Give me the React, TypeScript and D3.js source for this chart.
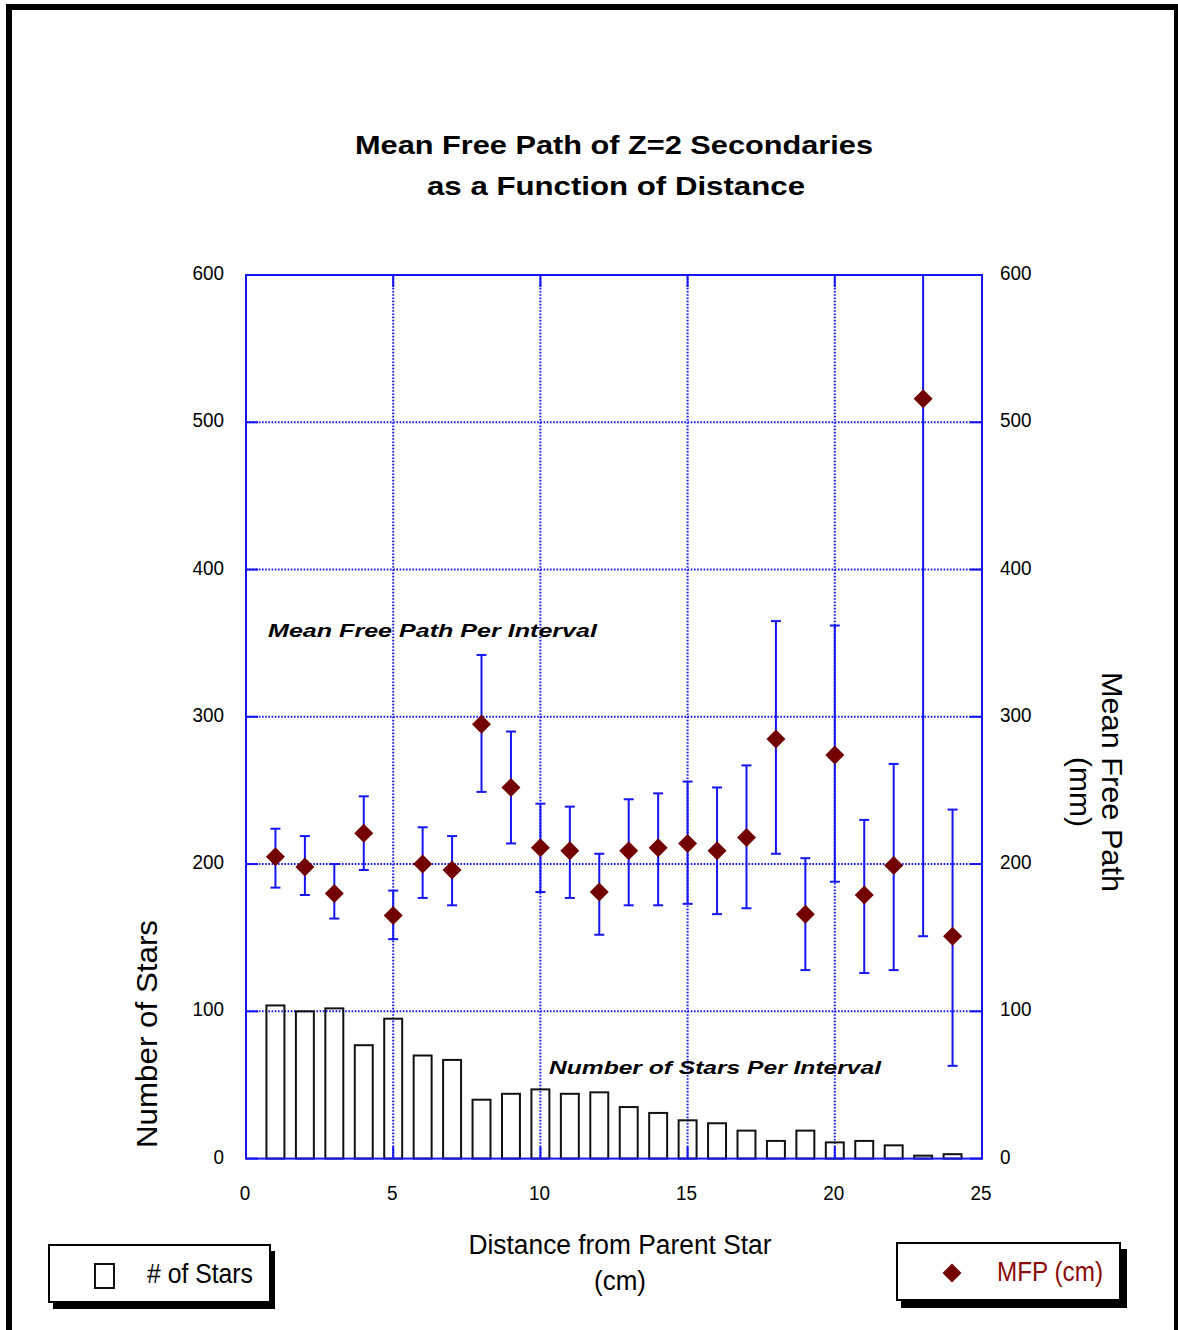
import React from "react";
import * as d3 from "d3";

// Distance intervals (cm) and per-interval measurements
const distances = [1, 2, 3, 4, 5, 6, 7, 8, 9, 10, 11, 12, 13, 14, 15, 16, 17, 18, 19, 20, 21, 22, 23, 24];
const starCounts = [104, 100, 102, 77, 95, 70, 67, 40, 44, 47, 44, 45, 35, 31, 26, 24, 19, 12, 19, 11, 12, 9, 2, 3];
const mfpValues = [205, 198, 180, 221, 165, 200, 196, 295, 252, 211, 209, 181, 209, 211, 214, 209, 218, 285, 166, 274, 179, 199, 516, 151];
const mfpUpper = [224, 219, 200, 246, 182, 225, 219, 342, 290, 241, 239, 207, 244, 248, 256, 252, 267, 365, 204, 362, 230, 268, 881, 237];
const mfpLower = [184, 179, 163, 196, 149, 177, 172, 249, 214, 181, 177, 152, 172, 172, 173, 166, 170, 207, 128, 188, 126, 128, 151, 63];

const xTicks = [0, 5, 10, 15, 20, 25];
const yTicks = [0, 100, 200, 300, 400, 500, 600];

const W = 1178;
const H = 1330;
const BLUE = "#1616f5";
const MAROON = "#730000";
const SANS = "'Liberation Sans', Arial, sans-serif";

export default function App() {
  const x = d3.scaleLinear().domain([0, 25]).range([246, 982]);
  const y = d3.scaleLinear().domain([0, 600]).range([1158.6, 275]);
  const [x0, x1] = x.range();
  const [y0, y1] = y.range();
  const barW = x(0.61) - x(0);
  const capW = 5;
  const tickLen = 12;
  const diamond = d3.symbol().type(d3.symbolDiamond2).size(230);
  const clampY = (v: number) => y(Math.min(600, Math.max(0, v)));

  return (
    <svg
      width={W}
      height={H}
      viewBox={`0 0 ${W} ${H}`}
      style={{ position: "absolute", left: 0, top: 0, display: "block", background: "#fff" }}
    >
      {/* page frame */}
      <rect x={9} y={7} width={1168} height={1360} fill="none" stroke="#000" strokeWidth={6} />

      {/* title */}
      <g fontFamily={SANS} fontWeight="bold" fontSize={26} textAnchor="middle" fill="#000">
        <text x={614} y={154} textLength={518} lengthAdjust="spacingAndGlyphs">Mean Free Path of Z=2 Secondaries</text>
        <text x={616} y={195} textLength={378} lengthAdjust="spacingAndGlyphs">as a Function of Distance</text>
      </g>

      {/* dotted grid */}
      <g stroke={BLUE} strokeWidth={2} strokeDasharray="1.6 1.6" fill="none">
        {xTicks.filter((t) => t > 0 && t < 25).map((t) => (
          <line key={`gx${t}`} x1={x(t)} x2={x(t)} y1={y1} y2={y0} />
        ))}
        {yTicks.filter((t) => t > 0 && t < 600).map((t) => (
          <line key={`gy${t}`} x1={x0} x2={x1} y1={y(t)} y2={y(t)} />
        ))}
      </g>

      {/* star count bars */}
      <g fill="none" stroke="#111" strokeWidth={2}>
        {distances.map((d, i) => (
          <rect
            key={`b${d}`}
            x={x(d) - barW / 2}
            y={y(starCounts[i])}
            width={barW}
            height={y(0) - y(starCounts[i])}
          />
        ))}
      </g>

      {/* error bars */}
      <g stroke={BLUE} strokeWidth={2} fill="none">
        {distances.map((d, i) => {
          const cx = x(d);
          const top = clampY(mfpUpper[i]);
          const bot = clampY(mfpLower[i]);
          return (
            <g key={`e${d}`}>
              <line x1={cx} x2={cx} y1={top} y2={bot} />
              {mfpUpper[i] <= 600 && <line x1={cx - capW} x2={cx + capW} y1={top} y2={top} />}
              <line x1={cx - capW} x2={cx + capW} y1={bot} y2={bot} />
            </g>
          );
        })}
      </g>

      {/* axes frame and ticks */}
      <g stroke={BLUE} strokeWidth={2} fill="none">
        <rect x={x0} y={y1} width={x1 - x0} height={y0 - y1} />
        {yTicks.map((t) => (
          <g key={`ty${t}`}>
            <line x1={x0} x2={x0 + tickLen} y1={y(t)} y2={y(t)} />
            <line x1={x1 - tickLen} x2={x1} y1={y(t)} y2={y(t)} />
          </g>
        ))}
        {xTicks.map((t) => (
          <g key={`tx${t}`}>
            <line x1={x(t)} x2={x(t)} y1={y0} y2={y0 - tickLen} />
            <line x1={x(t)} x2={x(t)} y1={y1} y2={y1 + tickLen} />
          </g>
        ))}
      </g>

      {/* MFP markers */}
      <g fill={MAROON}>
        {distances.map((d, i) => (
          <path key={`m${d}`} d={diamond() as string} transform={`translate(${x(d)},${y(mfpValues[i])})`} />
        ))}
      </g>

      {/* tick labels */}
      <g fontFamily={SANS} fontSize={21} fill="#000">
        {yTicks.map((t) => (
          <text key={`ly${t}`} transform={`translate(224,${y(t) + 5}) scale(0.9,1)`} textAnchor="end">{t}</text>
        ))}
        {yTicks.map((t) => (
          <text key={`ry${t}`} transform={`translate(1000,${y(t) + 5}) scale(0.9,1)`} textAnchor="start">{t}</text>
        ))}
        {xTicks.map((t) => (
          <text key={`lx${t}`} transform={`translate(${x(t) - 1},1200) scale(0.9,1)`} textAnchor="middle">{t}</text>
        ))}
      </g>

      {/* axis titles */}
      <g fontFamily={SANS} fill="#000" textAnchor="middle" lengthAdjust="spacingAndGlyphs">
        <text transform="translate(157,1034) rotate(-90)" fontSize={29} textLength={228} lengthAdjust="spacingAndGlyphs">Number of Stars</text>
        <text transform="translate(1102,782) rotate(90)" fontSize={29} textLength={220} lengthAdjust="spacingAndGlyphs">Mean Free Path</text>
        <text transform="translate(1070,792) rotate(90)" fontSize={29} textLength={70} lengthAdjust="spacingAndGlyphs">(mm)</text>
        <text x={620} y={1254} fontSize={27} textLength={303} lengthAdjust="spacingAndGlyphs">Distance from Parent Star</text>
        <text x={620} y={1290} fontSize={27} textLength={52} lengthAdjust="spacingAndGlyphs">(cm)</text>
      </g>

      {/* in-plot annotations */}
      <g fontFamily={SANS} fontWeight="bold" fontStyle="italic" fontSize={19} fill="#000">
        <text x={268} y={637} textLength={329} lengthAdjust="spacingAndGlyphs">Mean Free Path Per Interval</text>
        <text x={549} y={1074} textLength={332} lengthAdjust="spacingAndGlyphs">Number of Stars Per Interval</text>
      </g>

      {/* legend: star counts */}
      <g>
        <rect x={53} y={1251} width={222} height={58} fill="#000" />
        <rect x={49} y={1245} width={221} height={57} fill="#fff" stroke="#000" strokeWidth={2} />
        <rect x={95} y={1264} width={19} height={24} fill="none" stroke="#111" strokeWidth={2} />
        <text x={147} y={1283} fontFamily={SANS} fontSize={28} fill="#000" textLength={106} lengthAdjust="spacingAndGlyphs">
          # of Stars
        </text>
      </g>

      {/* legend: mean free path */}
      <g>
        <rect x={901} y={1249} width={226} height={59} fill="#000" />
        <rect x={897} y={1243} width={223} height={57} fill="#fff" stroke="#000" strokeWidth={2} />
        <path d={diamond() as string} transform="translate(952,1273)" fill={MAROON} />
        <text x={997} y={1281} fontFamily={SANS} fontSize={28} fill="#8b0a0a" textLength={106} lengthAdjust="spacingAndGlyphs">
          MFP (cm)
        </text>
      </g>
    </svg>
  );
}
